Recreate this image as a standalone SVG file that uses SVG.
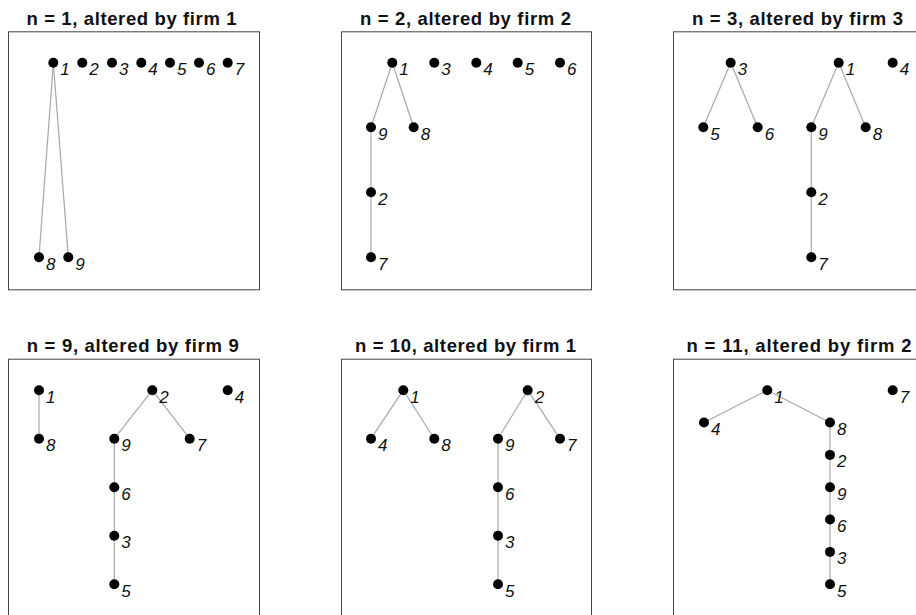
<svg xmlns="http://www.w3.org/2000/svg" width="916" height="615" viewBox="0 0 916 615">
<style>
.bg{fill:#fff}
.frame{fill:none;stroke:#444;stroke-width:1}
.title{font-family:"Liberation Sans",Arial,sans-serif;font-weight:bold;font-size:18.5px;fill:#111;text-anchor:middle}
.e{stroke:#a8a8a8;stroke-width:1.2;fill:none}
.n circle{fill:#000}
.n text{font-family:"Liberation Sans",Arial,sans-serif;font-style:italic;font-size:17px;fill:#111}
</style>
<rect class="bg" x="0" y="0" width="916" height="615"/>

<!-- Panel 1 -->
<g id="panel1" transform="translate(8,31.3)">
<text class="title" x="123.5" y="-6.3" textLength="210" lengthAdjust="spacing">n = 1, altered by firm 1</text>
<rect class="frame" x="0.5" y="0.5" width="251" height="258"/>
<g id="p1-connectors">
<line class="e" x1="45.3" y1="31.5" x2="31" y2="226"/>
<line class="e" x1="45.3" y1="31.5" x2="60.3" y2="226"/>
</g>
<g id="p1-n1" class="n"><circle cx="45.3" cy="31.5" r="5"/><text x="52.3" y="44">1</text></g>
<g id="p1-n2" class="n"><circle cx="74.3" cy="31.5" r="5"/><text x="81.3" y="44">2</text></g>
<g id="p1-n3" class="n"><circle cx="104" cy="31.5" r="5"/><text x="111" y="44">3</text></g>
<g id="p1-n4" class="n"><circle cx="133.3" cy="31.5" r="5"/><text x="140.3" y="44">4</text></g>
<g id="p1-n5" class="n"><circle cx="162" cy="31.5" r="5"/><text x="169" y="44">5</text></g>
<g id="p1-n6" class="n"><circle cx="191" cy="31.5" r="5"/><text x="198" y="44">6</text></g>
<g id="p1-n7" class="n"><circle cx="219.7" cy="31.5" r="5"/><text x="226.7" y="44">7</text></g>
<g id="p1-n8" class="n"><circle cx="31" cy="226" r="5"/><text x="38" y="238.5">8</text></g>
<g id="p1-n9" class="n"><circle cx="60.3" cy="226" r="5"/><text x="67.3" y="238.5">9</text></g>
</g>

<!-- Panel 2 -->
<g id="panel2" transform="translate(341,31.3)">
<text class="title" x="124.5" y="-6.3" textLength="211" lengthAdjust="spacing">n = 2, altered by firm 2</text>
<rect class="frame" x="0.5" y="0.5" width="250" height="258"/>
<g id="p2-connectors">
<line class="e" x1="51.3" y1="31.5" x2="30" y2="96"/>
<line class="e" x1="51.3" y1="31.5" x2="72.7" y2="96"/>
<line class="e" x1="30" y1="96" x2="30" y2="161"/>
<line class="e" x1="30" y1="161" x2="30" y2="226"/>
</g>
<g id="p2-n1" class="n"><circle cx="51.3" cy="31.5" r="5"/><text x="58.3" y="44">1</text></g>
<g id="p2-n3" class="n"><circle cx="93.3" cy="31.5" r="5"/><text x="100.3" y="44">3</text></g>
<g id="p2-n4" class="n"><circle cx="135.3" cy="31.5" r="5"/><text x="142.3" y="44">4</text></g>
<g id="p2-n5" class="n"><circle cx="176.7" cy="31.5" r="5"/><text x="183.7" y="44">5</text></g>
<g id="p2-n6" class="n"><circle cx="219" cy="31.5" r="5"/><text x="226" y="44">6</text></g>
<g id="p2-n9" class="n"><circle cx="30" cy="96" r="5"/><text x="37" y="108.5">9</text></g>
<g id="p2-n8" class="n"><circle cx="72.7" cy="96" r="5"/><text x="79.7" y="108.5">8</text></g>
<g id="p2-n2" class="n"><circle cx="30" cy="161" r="5"/><text x="37" y="173.5">2</text></g>
<g id="p2-n7" class="n"><circle cx="30" cy="226" r="5"/><text x="37" y="238.5">7</text></g>
</g>

<!-- Panel 3 -->
<g id="panel3" transform="translate(673,31.3)">
<text class="title" x="124.5" y="-6.3" textLength="211" lengthAdjust="spacing">n = 3, altered by firm 3</text>
<rect class="frame" x="0.5" y="0.5" width="250" height="258"/>
<g id="p3-connectors">
<line class="e" x1="57.7" y1="31.5" x2="30.3" y2="96"/>
<line class="e" x1="57.7" y1="31.5" x2="84.7" y2="96"/>
<line class="e" x1="165.7" y1="31.5" x2="138.3" y2="96"/>
<line class="e" x1="165.7" y1="31.5" x2="192.7" y2="96"/>
<line class="e" x1="138.3" y1="96" x2="138.3" y2="161"/>
<line class="e" x1="138.3" y1="161" x2="138.3" y2="226"/>
</g>
<g id="p3-n3" class="n"><circle cx="57.7" cy="31.5" r="5"/><text x="64.7" y="44">3</text></g>
<g id="p3-n1" class="n"><circle cx="165.7" cy="31.5" r="5"/><text x="172.7" y="44">1</text></g>
<g id="p3-n4" class="n"><circle cx="219.7" cy="31.5" r="5"/><text x="226.7" y="44">4</text></g>
<g id="p3-n5" class="n"><circle cx="30.3" cy="96" r="5"/><text x="37.3" y="108.5">5</text></g>
<g id="p3-n6" class="n"><circle cx="84.7" cy="96" r="5"/><text x="91.7" y="108.5">6</text></g>
<g id="p3-n9" class="n"><circle cx="138.3" cy="96" r="5"/><text x="145.3" y="108.5">9</text></g>
<g id="p3-n8" class="n"><circle cx="192.7" cy="96" r="5"/><text x="199.7" y="108.5">8</text></g>
<g id="p3-n2" class="n"><circle cx="138.3" cy="161" r="5"/><text x="145.3" y="173.5">2</text></g>
<g id="p3-n7" class="n"><circle cx="138.3" cy="226" r="5"/><text x="145.3" y="238.5">7</text></g>
</g>

<!-- Panel 4 -->
<g id="panel4" transform="translate(8,358.7)">
<text class="title" x="124.7" y="-6.7" textLength="212" lengthAdjust="spacing">n = 9, altered by firm 9</text>
<rect class="frame" x="0.5" y="0.5" width="251" height="300"/>
<g id="p4-connectors">
<line class="e" x1="31" y1="31.5" x2="31" y2="80"/>
<line class="e" x1="144.3" y1="31.5" x2="106.3" y2="80"/>
<line class="e" x1="144.3" y1="31.5" x2="181.7" y2="80"/>
<line class="e" x1="106.3" y1="80" x2="106.3" y2="128.5"/>
<line class="e" x1="106.3" y1="128.5" x2="106.3" y2="177"/>
<line class="e" x1="106.3" y1="177" x2="106.3" y2="225.5"/>
</g>
<g id="p4-n1" class="n"><circle cx="31" cy="31.5" r="5"/><text x="38" y="44">1</text></g>
<g id="p4-n2" class="n"><circle cx="144.3" cy="31.5" r="5"/><text x="151.3" y="44">2</text></g>
<g id="p4-n4" class="n"><circle cx="219.7" cy="31.5" r="5"/><text x="226.7" y="44">4</text></g>
<g id="p4-n8" class="n"><circle cx="31" cy="80" r="5"/><text x="38" y="92.5">8</text></g>
<g id="p4-n9" class="n"><circle cx="106.3" cy="80" r="5"/><text x="113.3" y="92.5">9</text></g>
<g id="p4-n7" class="n"><circle cx="181.7" cy="80" r="5"/><text x="188.7" y="92.5">7</text></g>
<g id="p4-n6" class="n"><circle cx="106.3" cy="128.5" r="5"/><text x="113.3" y="141">6</text></g>
<g id="p4-n3" class="n"><circle cx="106.3" cy="177" r="5"/><text x="113.3" y="189.5">3</text></g>
<g id="p4-n5" class="n"><circle cx="106.3" cy="225.5" r="5"/><text x="113.3" y="238">5</text></g>
</g>

<!-- Panel 5 -->
<g id="panel5" transform="translate(341,358.7)">
<text class="title" x="124.5" y="-6.7" textLength="221" lengthAdjust="spacing">n = 10, altered by firm 1</text>
<rect class="frame" x="0.5" y="0.5" width="250" height="300"/>
<g id="p5-connectors">
<line class="e" x1="62.3" y1="31.5" x2="30" y2="80"/>
<line class="e" x1="62.3" y1="31.5" x2="93.3" y2="80"/>
<line class="e" x1="186.7" y1="31.5" x2="157" y2="80"/>
<line class="e" x1="186.7" y1="31.5" x2="219" y2="80"/>
<line class="e" x1="157" y1="80" x2="157" y2="128.5"/>
<line class="e" x1="157" y1="128.5" x2="157" y2="177"/>
<line class="e" x1="157" y1="177" x2="157" y2="225.5"/>
</g>
<g id="p5-n1" class="n"><circle cx="62.3" cy="31.5" r="5"/><text x="69.3" y="44">1</text></g>
<g id="p5-n2" class="n"><circle cx="186.7" cy="31.5" r="5"/><text x="193.7" y="44">2</text></g>
<g id="p5-n4" class="n"><circle cx="30" cy="80" r="5"/><text x="37" y="92.5">4</text></g>
<g id="p5-n8" class="n"><circle cx="93.3" cy="80" r="5"/><text x="100.3" y="92.5">8</text></g>
<g id="p5-n9" class="n"><circle cx="157" cy="80" r="5"/><text x="164" y="92.5">9</text></g>
<g id="p5-n7" class="n"><circle cx="219" cy="80" r="5"/><text x="226" y="92.5">7</text></g>
<g id="p5-n6" class="n"><circle cx="157" cy="128.5" r="5"/><text x="164" y="141">6</text></g>
<g id="p5-n3" class="n"><circle cx="157" cy="177" r="5"/><text x="164" y="189.5">3</text></g>
<g id="p5-n5" class="n"><circle cx="157" cy="225.5" r="5"/><text x="164" y="238">5</text></g>
</g>

<!-- Panel 6 -->
<g id="panel6" transform="translate(673,358.7)">
<text class="title" x="126" y="-6.7" textLength="225" lengthAdjust="spacing">n = 11, altered by firm 2</text>
<rect class="frame" x="0.5" y="0.5" width="250" height="300"/>
<g id="p6-connectors">
<line class="e" x1="94.3" y1="31.5" x2="31" y2="63.8"/>
<line class="e" x1="94.3" y1="31.5" x2="157" y2="63.8"/>
<line class="e" x1="157" y1="63.8" x2="157" y2="96.2"/>
<line class="e" x1="157" y1="96.2" x2="157" y2="128.5"/>
<line class="e" x1="157" y1="128.5" x2="157" y2="160.8"/>
<line class="e" x1="157" y1="160.8" x2="157" y2="193.2"/>
<line class="e" x1="157" y1="193.2" x2="157" y2="225.5"/>
</g>
<g id="p6-n1" class="n"><circle cx="94.3" cy="31.5" r="5"/><text x="101.3" y="44">1</text></g>
<g id="p6-n7" class="n"><circle cx="219.7" cy="31.5" r="5"/><text x="226.7" y="44">7</text></g>
<g id="p6-n4" class="n"><circle cx="31" cy="63.8" r="5"/><text x="38" y="76.3">4</text></g>
<g id="p6-n8" class="n"><circle cx="157" cy="63.8" r="5"/><text x="164" y="76.3">8</text></g>
<g id="p6-n2" class="n"><circle cx="157" cy="96.2" r="5"/><text x="164" y="108.7">2</text></g>
<g id="p6-n9" class="n"><circle cx="157" cy="128.5" r="5"/><text x="164" y="141">9</text></g>
<g id="p6-n6" class="n"><circle cx="157" cy="160.8" r="5"/><text x="164" y="173.3">6</text></g>
<g id="p6-n3" class="n"><circle cx="157" cy="193.2" r="5"/><text x="164" y="205.7">3</text></g>
<g id="p6-n5" class="n"><circle cx="157" cy="225.5" r="5"/><text x="164" y="238">5</text></g>
</g>
</svg>
